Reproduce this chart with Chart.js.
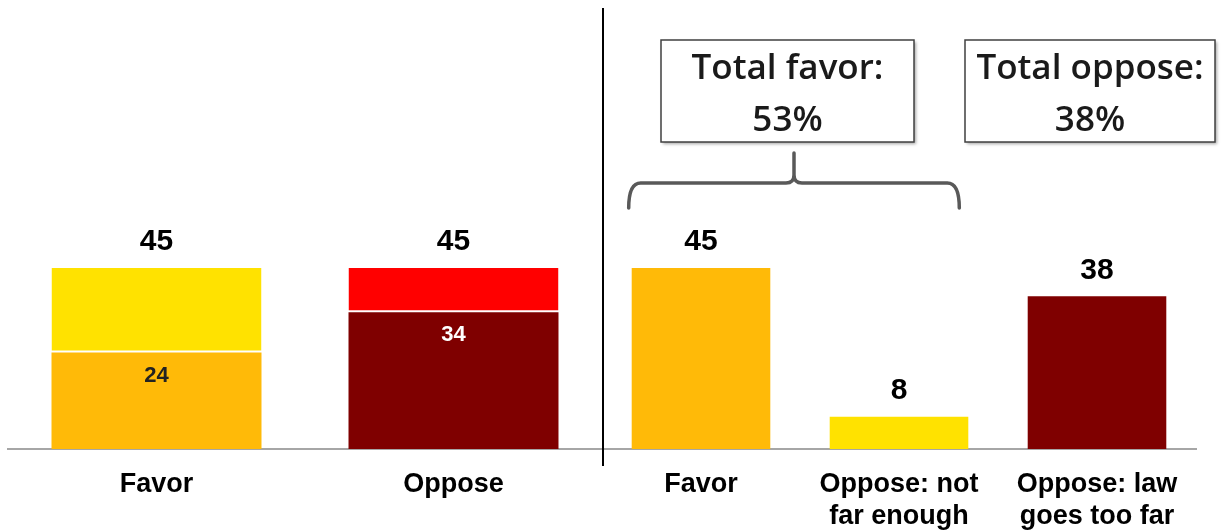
<!DOCTYPE html>
<html>
<head>
<meta charset="utf-8">
<script src="https://cdn.jsdelivr.net/npm/chart.js@4"></script>
<style>
  body { margin: 0; background: #fff; }
  #wrap { position: relative; width: 1222px; height: 531px; }
  #left { position: absolute; left: 0; top: 0; }
  #right { position: absolute; left: 602px; top: 0; }
  #divider { position: absolute; left: 602px; top: 8px; width: 2px; height: 458px; background: #000; }
</style>
</head>
<body>
<div id="wrap">
  <canvas id="left" width="604" height="531"></canvas>
  <canvas id="right" width="620" height="531"></canvas>
  <div id="divider"></div>
</div>
<script>
// left panel: stacked
var leftCategories = ["Favor", "Oppose"];
var leftStrong = [24, 34];
var leftRest = [21, 11];
var leftStrongColors = ["#FFBA08", "#7F0000"];
var leftRestColors = ["#FFE200", "#FF0000"];
var leftInnerText = ["#222222", "#ffffff"];

// right panel
var rightCategories = [["Favor"], ["Oppose: not", "far enough"], ["Oppose: law", "goes too far"]];
var rightValues = [45, 8, 38];
var rightColors = ["#FFBA08", "#FFE200", "#7F0000"];

var totalFavor = 53;
var totalOppose = 38;

var arial = "'Liberation Sans', Arial, sans-serif";

function fixHeight(scale) {
  scale.height = 82;
}

function xAxis() {
  return {
    grid: { display: false, drawTicks: false },
    border: { display: true, color: "#A6A6A6", width: 2 },
    ticks: {
      color: "#000",
      padding: 19,
      maxRotation: 0,
      autoSkip: false,
      font: { family: arial, size: 27, weight: "bold", lineHeight: 1.2 },
    },
    afterFit: fixHeight,
  };
}

var leftLabels = {
  id: "leftLabels",
  afterDatasetsDraw: function (chart) {
    var ctx = chart.ctx;
    var base = chart.getDatasetMeta(0).data;
    var top = chart.getDatasetMeta(1).data;
    ctx.save();
    ctx.textAlign = "center";
    ctx.textBaseline = "middle";
    base.forEach(function (bar, i) {
      ctx.font = "bold 22px " + arial;
      ctx.fillStyle = leftInnerText[i];
      ctx.fillText(leftStrong[i], bar.x, bar.y + 23);
      ctx.font = "bold 30px " + arial;
      ctx.fillStyle = "#000";
      ctx.fillText(leftStrong[i] + leftRest[i], top[i].x, top[i].y - 26);
    });
    ctx.restore();
  },
};

new Chart("left", {
  type: "bar",
  data: {
    labels: leftCategories,
    datasets: [
      { data: leftStrong, backgroundColor: leftStrongColors, borderWidth: 0 },
      {
        data: leftRest,
        backgroundColor: leftRestColors,
        borderColor: "#ffffff",
        borderWidth: { bottom: 2, top: 0, left: 0, right: 0 },
        borderSkipped: false,
      },
    ],
  },
  options: {
    animation: false,
    responsive: false,
    layout: { padding: { top: 47, left: 8, right: 2, bottom: 0 } },
    datasets: { bar: { barPercentage: 1, categoryPercentage: 0.707 } },
    plugins: { legend: { display: false }, tooltip: { enabled: false } },
    scales: {
      x: Object.assign(xAxis(), { stacked: true }),
      y: { display: false, stacked: true, min: 0, max: 100 },
    },
  },
  plugins: [leftLabels],
});

function drawBox(ctx, x1, x2, y1, y2, lines) {
  ctx.save();
  ctx.shadowColor = "rgba(0,0,0,0.35)";
  ctx.shadowBlur = 3;
  ctx.shadowOffsetX = 2;
  ctx.shadowOffsetY = 2;
  ctx.fillStyle = "#fff";
  ctx.fillRect(x1, y1, x2 - x1, y2 - y1);
  ctx.restore();
  ctx.save();
  ctx.strokeStyle = "#404040";
  ctx.lineWidth = 1.5;
  ctx.strokeRect(x1, y1, x2 - x1, y2 - y1);
  ctx.fillStyle = "#1a1a1a";
  ctx.font = "600 35px 'Open Sans', Lato, sans-serif";
  ctx.textAlign = "center";
  ctx.textBaseline = "middle";
  var cx = (x1 + x2) / 2;
  ctx.fillText(lines[0], cx, y1 + 29);
  ctx.fillText(lines[1], cx, y1 + 81);
  ctx.restore();
}

var rightLabels = {
  id: "rightLabels",
  afterDatasetsDraw: function (chart) {
    var ctx = chart.ctx;
    var bars = chart.getDatasetMeta(0).data;
    ctx.save();
    ctx.textAlign = "center";
    ctx.textBaseline = "middle";
    ctx.font = "bold 30px " + arial;
    ctx.fillStyle = "#000";
    bars.forEach(function (bar, i) {
      ctx.fillText(rightValues[i], bar.x, bar.y - 26);
    });
    ctx.restore();

    // bracket over the first two bars
    var b0 = bars[0], b1 = bars[1];
    var l = b0.x - b0.width / 2 - 3;
    var r = b1.x + b1.width / 2 - 9;
    var m = (l + r) / 2;
    var yb = 183, yEnd = 208, yTip = 153;
    ctx.save();
    ctx.strokeStyle = "#595959";
    ctx.lineWidth = 3.5;
    ctx.lineCap = "round";
    ctx.lineJoin = "round";
    ctx.beginPath();
    ctx.moveTo(l, yEnd);
    ctx.quadraticCurveTo(l, yb, l + 12, yb);
    ctx.lineTo(m - 8, yb);
    ctx.quadraticCurveTo(m, yb, m, yb - 8);
    ctx.lineTo(m, yTip);
    ctx.moveTo(m, yb - 8);
    ctx.quadraticCurveTo(m, yb, m + 8, yb);
    ctx.lineTo(r - 12, yb);
    ctx.quadraticCurveTo(r, yb, r, yEnd);
    ctx.stroke();
    ctx.restore();

    drawBox(ctx, m - 133, m + 120, 40, 142, ["Total favor:", totalFavor + "%"]);
    drawBox(ctx, 363, 613, 40, 142, ["Total oppose:", totalOppose + "%"]);
  },
};

new Chart("right", {
  type: "bar",
  data: {
    labels: rightCategories,
    datasets: [{ data: rightValues, backgroundColor: rightColors, borderWidth: 0 }],
  },
  options: {
    animation: false,
    responsive: false,
    layout: { padding: { top: 47, left: 0, right: 26, bottom: 0 } },
    datasets: { bar: { barPercentage: 1, categoryPercentage: 0.70 } },
    plugins: { legend: { display: false }, tooltip: { enabled: false } },
    scales: {
      x: xAxis(),
      y: { display: false, min: 0, max: 100 },
    },
  },
  plugins: [rightLabels],
});
</script>
</body>
</html>
